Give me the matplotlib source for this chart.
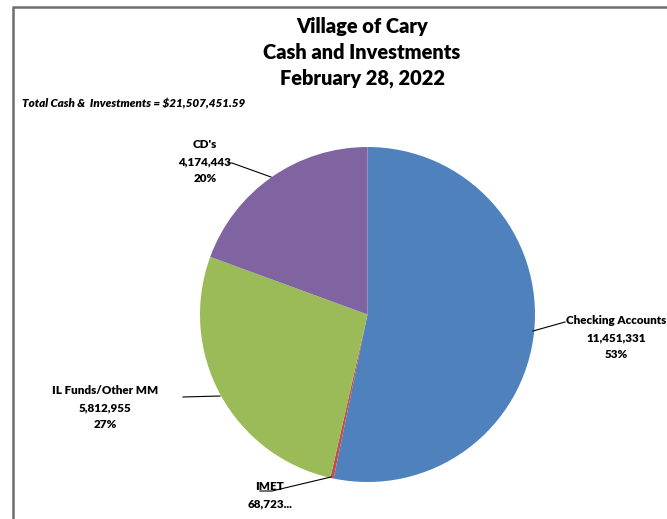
import matplotlib
matplotlib.use("Agg")
import matplotlib.pyplot as plt
from matplotlib.lines import Line2D

categories = ["Checking Accounts", "IMET", "IL Funds/Other MM", "CD's"]
values = [11451331, 68723, 5812955, 4174443]
value_labels = ["11,451,331", "68,723...", "5,812,955", "4,174,443"]
pct_labels = ["53%", "", "27%", "20%"]
colors = ["#4F81BD", "#C0504D", "#9BBB59", "#8064A2"]

title_lines = ["Village of Cary", "Cash and Investments", "February 28, 2022"]
subtitle = "Total Cash &  Investments = $21,507,451.59"

W, H = 667, 519
fig = plt.figure(figsize=(W / 100, H / 100), dpi=100)
ax = fig.add_axes([0, 0, 1, 1])

def Y(py):
    return H - py

cx, cy, r = 367.5, Y(314.5), 167.5
wedges, _ = ax.pie(values, colors=colors, startangle=90, counterclock=False,
                   center=(cx, cy), radius=r, frame=True,
                   wedgeprops=dict(linewidth=0))
ax.set_xlim(0, W)
ax.set_ylim(0, H)
ax.set_aspect("equal")
ax.axis("off")

font = "Lato"

# border
ax.add_line(Line2D([12.5, 12.5], [Y(6.5), Y(525)], color="#6f6f6f", lw=1.8, solid_capstyle="butt"))
ax.add_line(Line2D([11.6, 670], [Y(6.5), Y(6.5)], color="#6f6f6f", lw=1.8, solid_capstyle="butt"))

for i, t in enumerate(title_lines):
    ax.text(362, Y(27 + 25.5 * i), t, ha="center", va="center", fontsize=14.4,
            fontweight="heavy", family=font, color="black")
ax.text(22, Y(104), subtitle, ha="left", va="center", fontsize=8.4,
        fontweight="heavy", style="italic", family=font)

lab_fs = 8.4
# label positions: (center x, first line y)
label_pos = {
    0: (616, 321),
    1: (270, 487),
    2: (105, 391),
    3: (205, 145),
}
leaders = {
    0: [(533, 331), (565, 322)],
    1: [(331, 477), (272, 491), (260, 491)],
    2: [(220, 396), (183, 397)],
    3: [(271, 177), (232, 163), (228, 163)],
}
for i in range(4):
    x, y0 = label_pos[i]
    lines = [categories[i], value_labels[i]]
    if pct_labels[i]:
        lines.append(pct_labels[i])
    for j, s in enumerate(lines):
        ax.text(x, Y(y0 + 16.5 * j), s, ha="center", va="center", fontsize=lab_fs,
                fontweight="heavy", family=font, color="black")
    pts = leaders[i]
    ax.add_line(Line2D([p[0] for p in pts], [Y(p[1]) for p in pts], color="black", lw=0.8))

fig.savefig("out.png", dpi=100, facecolor="white")
